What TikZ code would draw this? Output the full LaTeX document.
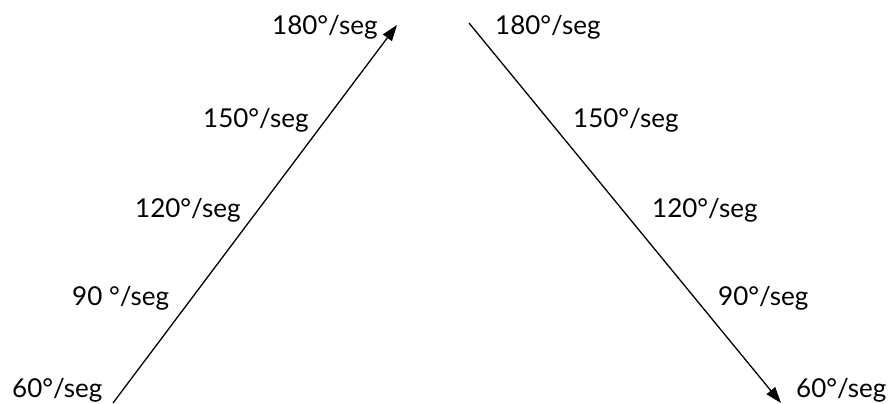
\documentclass[tikz,border=0pt]{standalone}
\usepackage{fontspec}
\setmainfont{Lato}
\usetikzlibrary{arrows.meta,positioning}

\begin{document}
\begin{tikzpicture}[x=1pt, y=-1pt,
  vel/.style={anchor=base west, inner sep=0pt, font=\fontsize{26}{30}\selectfont},
  arr/.style={line width=1.3pt, -{Triangle[length=16pt, width=11pt]}}
]
  \useasboundingbox (0,0) rectangle (892,404);
  % rising ramp
  \coordinate (upStart) at (113,403);
  \coordinate (upEnd) at (397,25);
  \draw[arr] (upStart) -- (upEnd);
  \node[vel] (up180) at (272,35) {180°/seg};
  \node[vel] (up150) at (203,128) {150°/seg};
  \node[vel] (up120) at (135,217) {120°/seg};
  \node[vel] (up90) at (72,305) {90 °/seg};
  \node[vel] (up60) at (12,397) {60°/seg};
  % falling ramp
  \coordinate (downStart) at (469,23);
  \coordinate (downEnd) at (781,403);
  \draw[arr] (downStart) -- (downEnd);
  \node[vel] (down180) at (495,35) {180°/seg};
  \node[vel] (down150) at (573,128) {150°/seg};
  \node[vel] (down120) at (652,217) {120°/seg};
  \node[vel] (down90) at (718,305) {90°/seg};
  \node[vel] (down60) at (796,397) {60°/seg};
\end{tikzpicture}
\end{document}
